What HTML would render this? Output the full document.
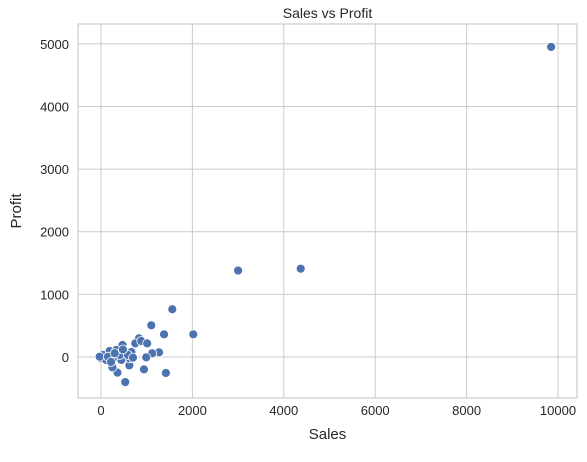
<!DOCTYPE html>
<html><head><meta charset="utf-8"><style>
body{margin:0;background:#fff;font-family:"Liberation Sans",sans-serif;}
svg text{font-family:"Liberation Sans",sans-serif;fill:#262626;}
</style></head><body>
<svg id="c" width="587" height="457"></svg>
<script>
const sales=[1560,1100,1380,2020,830,750,880,1010,470,1270,1120,990,1420,940,620,360,250,530,45,190,335,530,665,630,445,262,5,115,410,590,-30,153,300,220,480,700,3000,4370,9850];
const profit=[762,506,362,362,298,218,255,218,192,75,59,-5,-255,-197,-133,-250,-165,-400,32,96,112,80,80,-21,-48,-21,-21,-48,32,32,5,5,60,-80,120,-10,1380,1410,4950];
const xTicks=[0,2000,4000,6000,8000,10000];
const yTicks=[0,1000,2000,3000,4000,5000];
const L=78,R=577,T=24,B=398;
const sx=v=>101+v*0.0457;
const sy=v=>357-v*0.06264;
const NS="http://www.w3.org/2000/svg";
const svg=document.getElementById('c');
function mk(t,a){const e=document.createElementNS(NS,t);for(const k in a)e.setAttribute(k,a[k]);svg.appendChild(e);return e;}
xTicks.forEach(v=>{
 const g=mk('line',{x1:sx(v),x2:sx(v),y1:T,y2:B,stroke:'#cccccc','stroke-width':1});
 
 
 const t=mk('text',{x:sx(v),y:B+17,'text-anchor':'middle','font-size':13});
 t.textContent=v;
 
 
});
yTicks.forEach(v=>{
 const g=mk('line',{x1:L,x2:R,y1:sy(v),y2:sy(v),stroke:'#cccccc','stroke-width':1});
 
 
 const t=mk('text',{x:L-9,y:sy(v)+5,'text-anchor':'end','font-size':13});
 t.textContent=v;
 
 
});
const fr=mk('rect',{x:L,y:T,width:R-L,height:B-T,fill:'none',stroke:'#cccccc','stroke-width':1.2});


sales.forEach((s,i)=>{
 const c=mk('circle',{cx:sx(s),cy:sy(profit[i]),r:4.5,fill:'#4c72b0',stroke:'#fff','stroke-width':0.8});
 
 
});
let t=mk('text',{x:(L+R)/2,y:18,'text-anchor':'middle','font-size':14});t.textContent='Sales vs Profit';


t=mk('text',{x:(L+R)/2,y:439,'text-anchor':'middle','font-size':15});t.textContent='Sales';


t=mk('text',{x:21,y:(T+B)/2,'text-anchor':'middle','font-size':15,transform:'rotate(-90 21 '+((T+B)/2)+')'});t.textContent='Profit';


</script>
</body></html>
